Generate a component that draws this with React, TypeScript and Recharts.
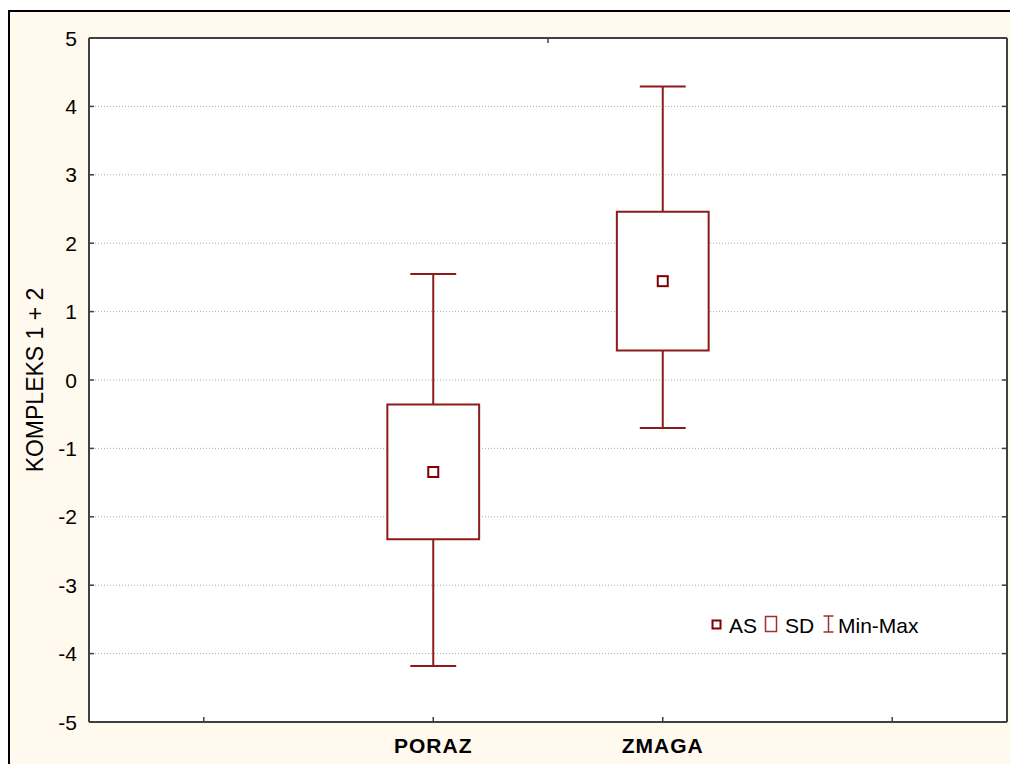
import React from 'react';
import {
  ComposedChart,
  Scatter,
  XAxis,
  YAxis,
  CartesianGrid,
  ReferenceArea,
  ReferenceLine,
} from 'recharts';

// x positions: slot index + 0.5, only the two middle slots carry groups
const slots = ['', 'PORAZ', 'ZMAGA', ''];
const groups = ['PORAZ', 'ZMAGA'];
const means = [-1.345, 1.445];
const sds = [0.985, 1.015];
const mins = [-4.18, -0.7];
const maxs = [1.55, 4.29];
const yTicks = [-5, -4, -3, -2, -1, 0, 1, 2, 3, 4, 5];

const RED = '#8E1B1B';
const AXIS = '#404040';
const FONT = 'Arial, "Liberation Sans", sans-serif';
const TICK = 5; // inward tick length

const xTicks = slots.map((_, i) => i + 0.5);
const posOf = (name: string) => slots.indexOf(name) + 0.5;

const data = groups.map((g, i) => ({
  name: g,
  x: posOf(g),
  mean: means[i],
  lo: means[i] - sds[i],
  hi: means[i] + sds[i],
  min: mins[i],
  max: maxs[i],
}));

const MeanMarker = (props: any) => {
  const { cx, cy } = props;
  return (
    <rect x={cx - 5} y={cy - 5} width={10} height={10} fill="#fff" stroke="#800000" strokeWidth={2} />
  );
};

// left axis: tickMargin 12, tick mark drawn inward from the axis line
const LeftTick = ({ x, y, payload }: any) => (
  <g>
    <line x1={x + 12} x2={x + 12 + TICK} y1={y} y2={y} stroke={AXIS} strokeWidth={1.5} />
    <text x={x} y={y} textAnchor="end" dominantBaseline="central" fontSize={21} fill="#000" fontFamily={FONT}>
      {payload.value}
    </text>
  </g>
);

const BottomTick = ({ x, y, payload }: any) => (
  <g>
    <line x1={x} x2={x} y1={y - 17} y2={y - 17 - TICK} stroke={AXIS} strokeWidth={1.5} />
    <text
      x={x}
      y={y + 14}
      textAnchor="middle"
      fontSize={21}
      fontWeight="bold"
      letterSpacing={1}
      fill="#000"
      fontFamily={FONT}
    >
      {slots[Math.round(payload.value - 0.5)] || ''}
    </text>
  </g>
);

const TopTick = ({ x, y }: any) => (
  <line x1={x} x2={x} y1={y} y2={y + TICK} stroke={AXIS} strokeWidth={1.5} />
);

const RightTick = ({ x, y }: any) => (
  <line x1={x - TICK} x2={x} y1={y} y2={y} stroke={AXIS} strokeWidth={1.5} />
);

const Legend = () => (
  <svg
    width={260}
    height={40}
    style={{ position: 'absolute', left: 695, top: 594, fontFamily: FONT }}
  >
    <rect x={7.5} y={14.5} width={8} height={8} fill="#fff" stroke="#800000" strokeWidth={2} />
    <text x={24} y={19} fontSize={21} dominantBaseline="central" fill="#000">AS</text>
    <rect x={60.5} y={10.5} width={11} height={15} fill="#fff" stroke="#A03030" strokeWidth={1.5} />
    <text x={80} y={19} fontSize={21} dominantBaseline="central" fill="#000">SD</text>
    <line x1={118.5} x2={128.5} y1={10} y2={10} stroke="#A03030" strokeWidth={1.5} />
    <line x1={123.5} x2={123.5} y1={10} y2={26} stroke="#A03030" strokeWidth={1.5} />
    <line x1={118.5} x2={128.5} y1={26} y2={26} stroke="#A03030" strokeWidth={1.5} />
    <text x={133} y={19} fontSize={21} dominantBaseline="central" fill="#000">Min-Max</text>
  </svg>
);

export default function App() {
  return (
    <div
      style={{
        position: 'fixed',
        left: 8,
        top: 10,
        width: 1002,
        height: 754,
        boxSizing: 'border-box',
        borderTop: '2px solid #000',
        borderLeft: '2px solid #000',
        background: '#FFF9EE',
        overflow: 'hidden',
      }}
    >
      <ComposedChart
        width={1000}
        height={752}
        data={data}
        margin={{ top: 25, right: 2, bottom: 0, left: 0 }}
        style={{ fontFamily: FONT }}
      >
        <CartesianGrid vertical={false} stroke="#aaa" strokeDasharray="1 2" fill="#fff" />
        <XAxis
          type="number"
          dataKey="x"
          domain={[0, slots.length]}
          ticks={xTicks}
          interval={0}
          height={42}
          allowDataOverflow
          tick={<BottomTick />}
          tickSize={0}
          tickMargin={17}
          tickLine={false}
          axisLine={{ stroke: AXIS, strokeWidth: 2 }}
        />
        <XAxis
          xAxisId="top"
          orientation="top"
          type="number"
          domain={[0, slots.length]}
          ticks={xTicks}
          interval={0}
          height={1}
          allowDataOverflow
          tick={<TopTick />}
          tickSize={0}
          tickMargin={0}
          tickLine={false}
          axisLine={{ stroke: AXIS, strokeWidth: 2 }}
        />
        <YAxis
          type="number"
          domain={[-5, 5]}
          ticks={yTicks}
          interval={0}
          width={79}
          allowDataOverflow
          tick={<LeftTick />}
          tickSize={0}
          tickMargin={12}
          tickLine={false}
          axisLine={{ stroke: AXIS, strokeWidth: 2 }}
          label={{
            value: 'KOMPLEKS 1 + 2',
            angle: -90,
            position: 'insideLeft',
            offset: 25,
            fontSize: 23,
            fill: '#000',
            style: { textAnchor: 'middle', fontSize: 23 },
          }}
        />
        <YAxis
          yAxisId="right"
          orientation="right"
          type="number"
          domain={[-5, 5]}
          ticks={yTicks}
          interval={0}
          width={1}
          allowDataOverflow
          tick={<RightTick />}
          tickSize={0}
          tickMargin={0}
          tickLine={false}
          axisLine={{ stroke: AXIS, strokeWidth: 2 }}
        />
        {data.map((d) => (
          <ReferenceLine
            key={`wu-${d.name}`}
            segment={[{ x: d.x, y: d.hi }, { x: d.x, y: d.max }]}
            stroke={RED}
            strokeWidth={2}
          />
        ))}
        {data.map((d) => (
          <ReferenceLine
            key={`wl-${d.name}`}
            segment={[{ x: d.x, y: d.min }, { x: d.x, y: d.lo }]}
            stroke={RED}
            strokeWidth={2}
          />
        ))}
        {data.map((d) => (
          <ReferenceLine
            key={`cu-${d.name}`}
            segment={[{ x: d.x - 0.1, y: d.max }, { x: d.x + 0.1, y: d.max }]}
            stroke={RED}
            strokeWidth={2}
          />
        ))}
        {data.map((d) => (
          <ReferenceLine
            key={`cl-${d.name}`}
            segment={[{ x: d.x - 0.1, y: d.min }, { x: d.x + 0.1, y: d.min }]}
            stroke={RED}
            strokeWidth={2}
          />
        ))}
        {data.map((d) => (
          <ReferenceArea
            key={`box-${d.name}`}
            x1={d.x - 0.2}
            x2={d.x + 0.2}
            y1={d.lo}
            y2={d.hi}
            fill="#fff"
            fillOpacity={1}
            stroke={RED}
            strokeWidth={2}
          />
        ))}
        <Scatter dataKey="mean" shape={<MeanMarker />} isAnimationActive={false} />
      </ComposedChart>
      <Legend />
    </div>
  );
}
